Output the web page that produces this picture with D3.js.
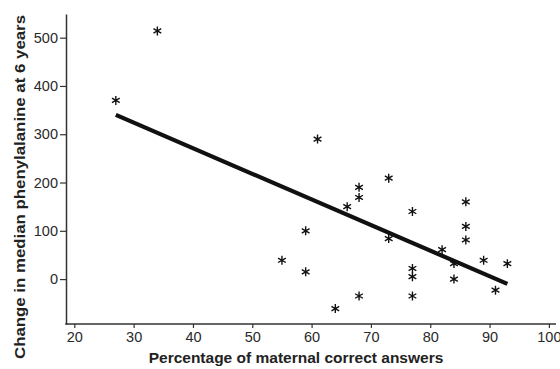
<!DOCTYPE html>
<html>
<head>
<meta charset="utf-8">
<script src="https://cdn.jsdelivr.net/npm/d3@7"></script>
<style>
    body { margin: 0; background: #fff; }
    svg { display: block; font-family: "Liberation Sans", Arial, Helvetica, sans-serif; }
</style>
</head>
<body>
<svg id="chart" width="560" height="369"></svg>
<script>
// percentage of maternal correct answers (x) and change in median Phe (y)
var correctPct = [27, 34, 61, 55, 59, 59, 64, 66, 68, 68, 68, 73, 73,
                  77, 77, 77, 77, 82, 84, 84, 86, 86, 86, 89, 91, 93];
var pheChange  = [370, 514, 290, 39, 100, 15, -61, 150, 190, 169, -35, 209, 84,
                  140, 22, 5, -35, 61, 32, 0, 160, 109, 81, 39, -23, 32];

// regression line, two ends
var fitX = [27, 93];
var fitY = [340, -10];

var xTicks = [20, 30, 40, 50, 60, 70, 80, 90, 100];
var yTicks = [0, 100, 200, 300, 400, 500];

var svg = d3.select("#chart");

var x = d3.scaleLinear().domain([18.6, 101.2]).range([66, 556]);
var y = d3.scaleLinear().domain([-93, 549]).range([324, 14]);

// axes
var xAxis = d3.axisBottom(x).tickValues(xTicks).tickSize(4).tickSizeOuter(0).tickPadding(4);
var yAxis = d3.axisLeft(y).tickValues(yTicks).tickSize(6).tickSizeOuter(0).tickPadding(2);

var gx = svg.append("g")
    .attr("transform", "translate(0," + y.range()[0] + ")")
    .call(xAxis);
var gy = svg.append("g")
    .attr("transform", "translate(" + x.range()[0] + ",0)")
    .call(yAxis);

[gx, gy].forEach(function(g) {
    g.select(".domain").attr("stroke", "#333").attr("stroke-width", 1.5);
    g.selectAll(".tick line").attr("stroke", "#333").attr("stroke-width", 1.2);
    g.selectAll(".tick text").attr("fill", "#2a2a2a").attr("font-size", 14.5);
});
// join corner of the axes
gx.select(".domain").attr("d", "M" + (x.range()[0] - 0.75) + ",0H" + x.range()[1]);

// fitted line
var fit = fitX.map(function(v, i) { return [v, fitY[i]]; });
svg.append("path")
    .datum(fit)
    .attr("d", d3.line().x(d => x(d[0])).y(d => y(d[1])))
    .attr("stroke", "#111")
    .attr("stroke-width", 4.2)
    .attr("fill", "none");

// asterisk markers
var star = d3.symbol().type(d3.symbolAsterisk).size(56);
var pts = correctPct.map(function(v, i) { return { x: v, y: pheChange[i] }; });

svg.append("g").selectAll("path")
    .data(pts)
    .enter()
    .append("path")
    .attr("transform", d => "translate(" + x(d.x) + "," + y(d.y) + ")")
    .attr("d", star)
    .attr("fill", "none")
    .attr("stroke", "#111")
    .attr("stroke-width", 1.4);

// titles
svg.append("text")
    .attr("x", 296)
    .attr("y", 363)
    .attr("text-anchor", "middle")
    .attr("font-size", 15.5)
    .attr("font-weight", "bold")
    .attr("fill", "#222")
    .text("Percentage of maternal correct answers");

svg.append("text")
    .attr("transform", "translate(25,187) rotate(-90)")
    .attr("text-anchor", "middle")
    .attr("font-size", 15.5)
    .attr("font-weight", "bold")
    .attr("fill", "#222")
    .attr("textLength", 344)
    .attr("lengthAdjust", "spacingAndGlyphs")
    .text("Change in median phenylalanine at 6 years");
</script>
</body>
</html>
